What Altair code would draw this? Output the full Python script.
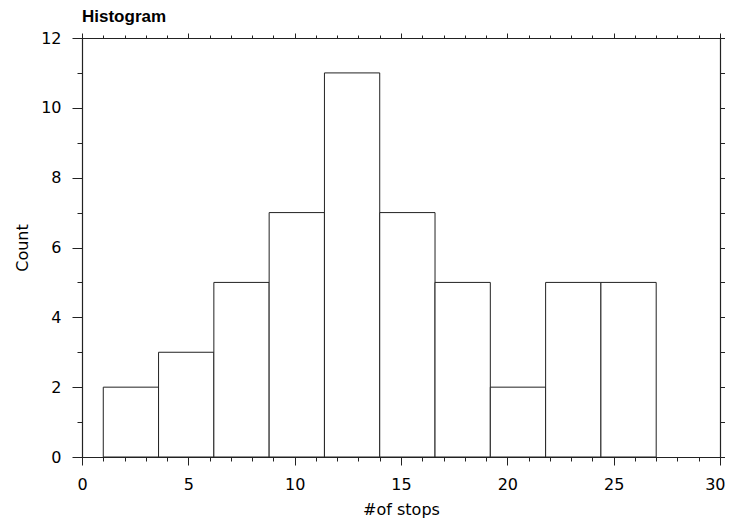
import altair as alt
import pandas as pd

# Histogram bins (# of stops) and counts
bin_start = [1.0, 3.6, 6.2, 8.8, 11.4, 14.0, 16.6, 19.2, 21.8, 24.4]
bin_end = [3.6, 6.2, 8.8, 11.4, 14.0, 16.6, 19.2, 21.8, 24.4, 27.0]
counts = [2, 3, 5, 7, 11, 7, 5, 2, 5, 5]

x_major = [0, 5, 10, 15, 20, 25, 30]
x_minor = list(range(0, 31))
y_major = [0, 2, 4, 6, 8, 10, 12]
y_minor = list(range(0, 13))

df = pd.DataFrame({"start": bin_start, "end": bin_end, "count": counts})

FONT = "DejaVu Sans"
INK = "#222222"

xscale = alt.Scale(domain=[0, 30], nice=False, zero=False)
yscale = alt.Scale(domain=[0, 12], nice=False)


def axis(orient, values, size, labels=False, domain=False, title=None, tpad=8, **extra):
    kw = dict(orient=orient, values=values, tickSize=size, labels=labels,
              domain=domain, grid=False, tickColor=INK, domainColor=INK,
              tickWidth=1, domainWidth=1.2, title=title)
    if labels:
        kw.update(labelFont=FONT, labelFontSize=16, labelColor="black",
                  labelPadding=11, labelFlush=False, labelOverlap=False)
    if title:
        kw.update(titleFont=FONT, titleFontSize=16, titleFontWeight="normal",
                  titleColor="black", titlePadding=tpad)
    kw.update(extra)
    return alt.Axis(**kw)


def layer(xaxis, yaxis, visible=False):
    mark = (alt.Chart(df).mark_bar(fill="white", stroke=INK, strokeWidth=1)
            if visible else alt.Chart(df).mark_bar(opacity=0))
    return mark.encode(
        x=alt.X("start:Q", scale=xscale, axis=xaxis),
        x2="end:Q",
        y=alt.Y("count:Q", scale=yscale, axis=yaxis, stack=None),
        y2=alt.datum(0),
    )


bars = layer(
    axis("bottom", x_major, 8, labels=True, domain=True, title="#of stops", tpad=9,
         labelAlign={"condition": {"test": "datum.value == 30", "value": "right"}, "value": "center"},
         labelOffset={"condition": {"test": "datum.value == 30", "value": 5}, "value": 0}),
    axis("left", y_major, 10, labels=True, domain=True, title="Count", tpad=10),
    visible=True,
)
minor_bl = layer(axis("bottom", x_minor, 4), axis("left", y_minor, 5))
major_tr = layer(axis("top", x_major, 5, domain=True), axis("right", y_major, 9, domain=True))
minor_tr = layer(axis("top", x_minor, 3), axis("right", y_minor, 5))

chart = (
    alt.layer(bars, minor_bl, major_tr, minor_tr)
    .resolve_axis(x="independent", y="independent")
    .properties(
        width=638,
        height=419,
        autosize=alt.AutoSizeParams(type="none"),
        padding={"left": 74, "top": 30, "right": 5, "bottom": 62},
        title=alt.TitleParams("Histogram", anchor="start", font="Liberation Sans",
                              fontSize=17, fontWeight="bold", color="black",
                              offset=4, frame="group"),
    )
    .configure_view(stroke=None)
)

chart.save("out.html", embed_options={"renderer": "svg", "actions": False})
